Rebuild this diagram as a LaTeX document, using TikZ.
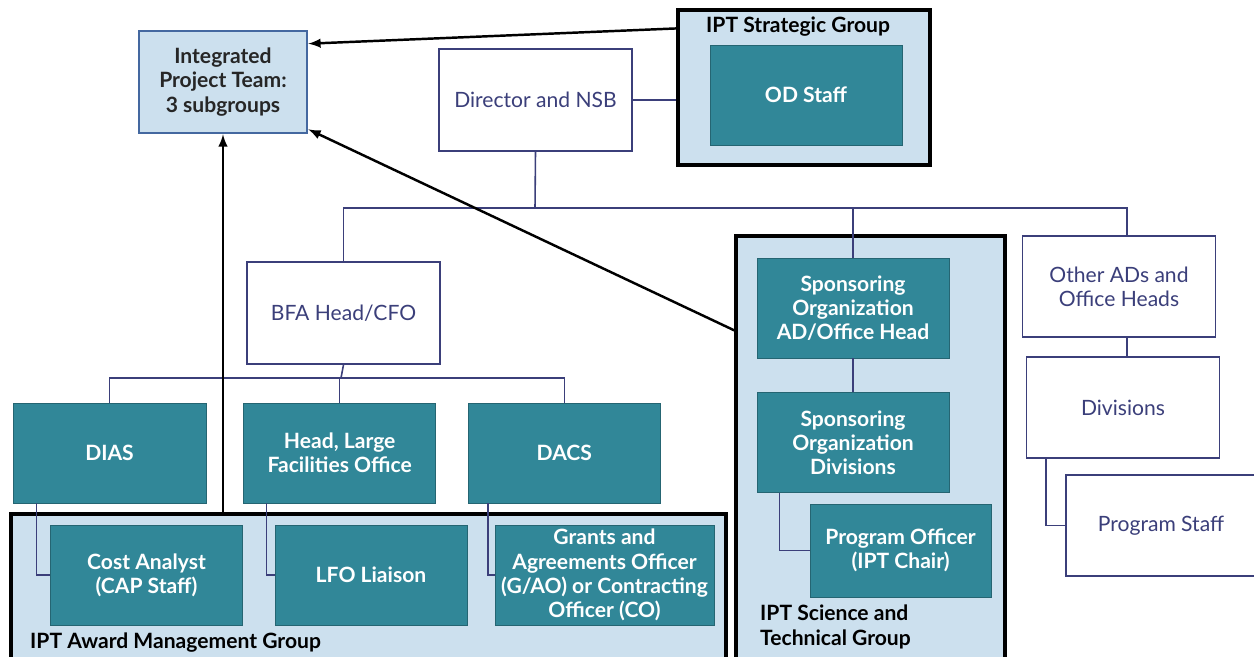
\documentclass[tikz,border=0pt]{standalone}
\usepackage{fontspec}
\setmainfont{Lato}
\usetikzlibrary{positioning}
\definecolor{navyline}{RGB}{59,63,122}
\definecolor{tealbox}{RGB}{49,135,152}
\definecolor{lightgroup}{RGB}{204,224,238}
\definecolor{iptborder}{RGB}{68,104,160}
\begin{document}
\begin{tikzpicture}[x=0.02cm, y=-0.02cm,
    font=\fontsize{12}{13.8}\selectfont,
    whitenode/.style={rectangle, draw=navyline, fill=white, line width=0.9pt, text=navyline, align=center, minimum width=3.86cm, minimum height=2.04cm},
    tealnode/.style={rectangle, draw=tealbox!75!black, fill=tealbox, text=white, align=center, inner sep=2pt, minimum width=3.84cm, minimum height=2cm, font=\fontsize{12}{13.8}\selectfont\bfseries},
    groupnode/.style={rectangle, draw=black, fill=lightgroup, line width=1.8pt, inner sep=0pt},
    grouplabel/.style={anchor=west, align=left, text=black, font=\fontsize{12}{13.8}\selectfont\bfseries},
    treeline/.style={draw=navyline, line width=0.9pt},
    bigarrow/.style={-latex, draw=black, line width=1.4pt},
]
\useasboundingbox (0,0) rectangle (1254,656);

%Groups
\node[groupnode, minimum width=5.04cm, minimum height=3.1cm] (stratgrp) at (804,87.5) {};
\node[groupnode, minimum width=14.3cm, minimum height=3cm] (awardgrp) at (368.5,589) {};
\node[groupnode, minimum width=5.38cm, minimum height=8.56cm] (scigrp) at (870.5,450) {};
\node[grouplabel] (stratlabel) at (700,27) {IPT Strategic Group};
\node[grouplabel] (awardlabel) at (24,643) {IPT Award Management Group};
\node[grouplabel] (scilabel) at (754,627) {IPT Science and\\Technical Group};

%Nodes
\node[rectangle, draw=iptborder, fill=lightgroup, line width=1.5pt, align=center, minimum width=3.36cm, minimum height=2.04cm, font=\fontsize{12}{13.8}\selectfont\bfseries, text=black!85] (ipt) at (223,82) {Integrated\\Project Team:\\3 subgroups};
\node[whitenode] (director) at (535.5,100) {Director and NSB};
\node[tealnode] (odstaff) at (806,95) {OD Staff};
\node[whitenode] (bfa) at (343.5,313) {BFA Head/CFO};

\node[tealnode, minimum width=3.86cm] (dias) at (109.5,453) {DIAS};
\node[tealnode] (headlfo) [right=0.74cm of dias] {Head, Large\\Facilities Office};
\node[tealnode] (dacs) [right=0.64cm of headlfo] {DACS};

\node[tealnode] (costan) at (146.5,575) {Cost Analyst\\(CAP Staff)};
\node[tealnode] (lfoliaison) at (371,575) {LFO Liaison};
\node[tealnode, minimum width=4.38cm] (gao) at (604.5,575) {Grants and\\Agreements Officer\\(G/AO) or Contracting\\Officer (CO)};

\node[tealnode] (sponsad) at (853,308) {Sponsoring\\Organization\\AD/Office Head};
\node[tealnode] (sponsdiv) [below=0.68cm of sponsad] {Sponsoring\\Organization\\Divisions};
\node[tealnode, minimum width=3.62cm, minimum height=1.86cm] (progoff) at (900.5,550.5) {Program Officer\\(IPT Chair)};

\node[whitenode, minimum height=2.02cm] (otherads) at (1119,286.5) {Other ADs and\\Office Heads};
\node[whitenode, minimum height=2.02cm] (divisions) at (1123,407.5) {Divisions};
\node[whitenode, minimum width=3.8cm, minimum height=2.02cm] (progstaff) at (1161,525.5) {Program Staff};

%Lines
\coordinate (busA) at (535,208);
\coordinate (busB) at (341,378);
\draw[treeline] (director.east) -- (director.east -| stratgrp.west);
\draw[treeline] (director.south) -- (busA);
\draw[treeline] (busA) -| (bfa.north);
\draw[treeline] (busA) -| (sponsad.north);
\draw[treeline] (busA) -| ([xshift=0.16cm]otherads.north);
\draw[treeline] (bfa.south) -- (busB);
\draw[treeline] (busB) -| (dias.north);
\draw[treeline] (busB) -| (headlfo.north);
\draw[treeline] (busB) -| (dacs.north);

\draw[treeline] ([xshift=0.48cm]dias.south west) |- (costan.west);
\draw[treeline] ([xshift=0.46cm]headlfo.south west) |- (lfoliaison.west);
\draw[treeline] ([xshift=0.4cm]dacs.south west) |- (gao.west);

\draw[treeline] (sponsad.south) -- (sponsdiv.north);
\draw[treeline] ([xshift=0.46cm]sponsdiv.south west) |- (progoff.west);
\draw[treeline] ([xshift=0.16cm]otherads.south) -- ([xshift=0.08cm]divisions.north);
\draw[treeline] ([xshift=0.4cm]divisions.south west) |- (progstaff.west);

%Arrows
\draw[bigarrow] ([yshift=-0.4cm]stratgrp.north west) -- ([yshift=-0.28cm]ipt.north east);
\draw[bigarrow] ([yshift=-1.92cm]scigrp.north west) -- ([yshift=0.1cm]ipt.south east);
\draw[bigarrow] (awardgrp.north -| ipt.south) -- (ipt.south);
\end{tikzpicture}
\end{document}
